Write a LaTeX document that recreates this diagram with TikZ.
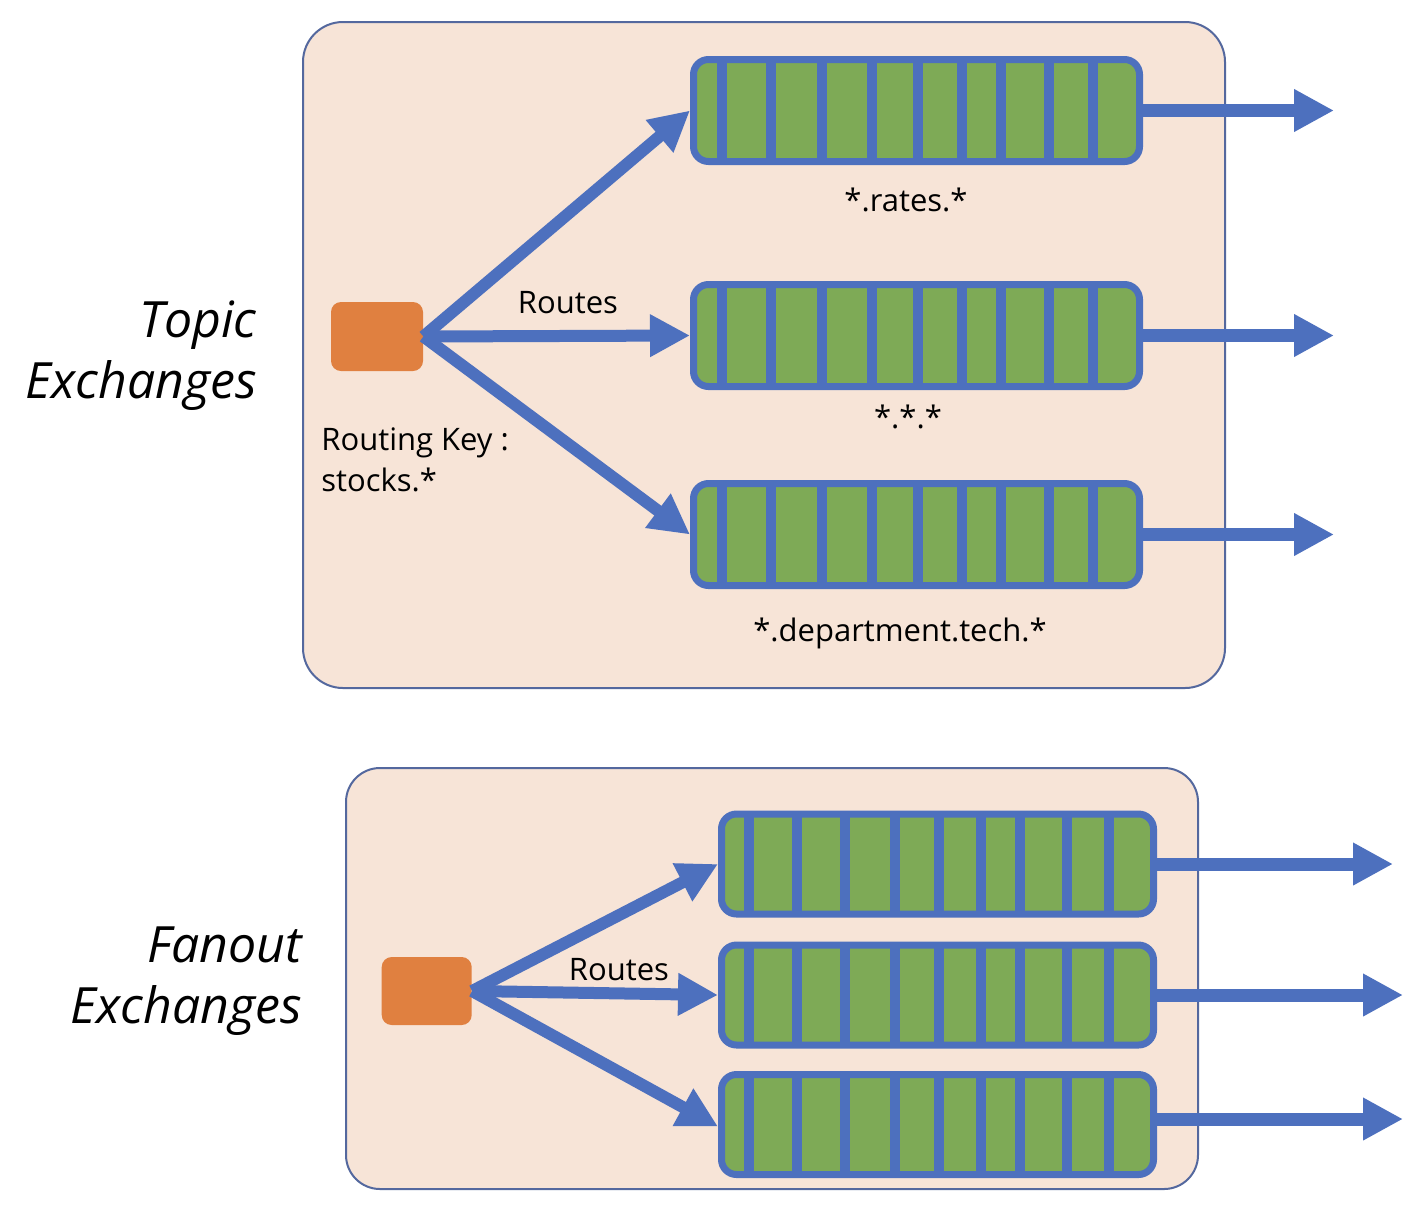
\documentclass[tikz,border=0pt]{standalone}
\usepackage{fontspec}
\setmainfont{Open Sans}
\usetikzlibrary{arrows.meta}
\definecolor{panelfill}{RGB}{247,228,215}
\definecolor{panelline}{RGB}{84,104,158}
\definecolor{qblue}{RGB}{77,112,190}
\definecolor{qgreen}{RGB}{126,170,86}
\definecolor{exorange}{RGB}{224,128,64}
\begin{document}
\begin{tikzpicture}[x=0.5pt,y=-0.5pt,
  panel/.style={draw=panelline, line width=1pt, fill=panelfill, rounded corners=20pt},
  queuetop/.style={draw=qblue, fill=qgreen, line width=3.5pt, rounded corners=7.5pt,
    minimum width=223pt, minimum height=51pt, inner sep=0pt},
  queuebot/.style={queuetop, minimum width=216pt, minimum height=50pt},
  exch/.style={fill=exorange, rounded corners=5pt, inner sep=0pt},
  route/.style={draw=qblue, line width=6pt, -{Triangle[length=20pt,width=20pt]}},
  outarrow/.style={draw=qblue, line width=6.5pt, -{Triangle[length=20pt,width=20pt]}},
  divider/.style={draw=qblue, line width=5pt},
  lbl/.style={font=\fontsize{15.5}{20.5}\selectfont, text=black, inner sep=0pt},
  ttl/.style={font=\fontsize{25}{30}\selectfont\itshape, text=black, inner sep=0pt},
]
\useasboundingbox (0,0) rectangle (1418,1206);
\fill[white] (0,0) rectangle (1418,1206);

% panels
\draw[panel] (303,22) rectangle (1225,688);
\draw[panel, rounded corners=17pt] (346,768) rectangle (1198,1189);

% exchanges
\node[exch, minimum width=46pt, minimum height=34.5pt] (ex1) at (377,336.5) {};
\node[exch, minimum width=45pt, minimum height=34pt] (ex2) at (426.7,991) {};

% queues (top)
\node[queuetop] (q1) at (916.5,110.5) {};
\node[queuetop] (q2) at (916.5,335.5) {};
\node[queuetop] (q3) at (916.5,534.5) {};
\foreach \cy in {110.5,335.5,534.5}{
  \foreach \x in {721.7,770.7,822.3,871.7,918.3,961.7,1001,1049.3,1093.3}{
    \draw[divider] (\x,{\cy-51}) -- (\x,{\cy+51});
  }
}
% queues (bottom)
\node[queuebot] (q4) at (937.5,864) {};
\node[queuebot] (q5) at (937.5,995) {};
\node[queuebot] (q6) at (937.5,1124.5) {};
\foreach \cy in {864,995,1124.5}{
  \foreach \x in {749.3,797.3,845,895,939.3,981,1020,1066.7,1108.7}{
    \draw[divider] (\x,{\cy-50}) -- (\x,{\cy+50});
  }
}

% routing arrows
\draw[route] (ex1.east) -- (q1.west);
\draw[route] (ex1.east) -- (q2.west);
\draw[route] (ex1.east) -- (q3.west);
\draw[route] (ex2.east) -- (q4.west);
\draw[route] (ex2.east) -- (q5.west);
\draw[route] (ex2.east) -- ([yshift=-1pt]q6.west);

% outgoing arrows
\coordinate (o1) at (1334,110.5);
\coordinate (o2) at (1334,335.5);
\coordinate (o3) at (1334,534.5);
\coordinate (o4) at (1393,864);
\coordinate (o5) at (1403,995);
\coordinate (o6) at (1403,1119);
\draw[outarrow] (q1.east) -- (o1);
\draw[outarrow] (q2.east) -- (o2);
\draw[outarrow] (q3.east) -- (o3);
\draw[outarrow] (q4.east) -- (o4);
\draw[outarrow] (q5.east) -- (o5);
\draw[outarrow] (q6.east |- o6) -- (o6);

% labels
\node[lbl, anchor=base] (l1) at (906,211) {*.rates.*};
\node[lbl, anchor=base] (l2) at (908,428) {*.*.*};
\node[lbl, anchor=base] (l3) at (900,641) {*.department.tech.*};
\node[lbl, anchor=base] (r1) at (568,313) {Routes};
\node[lbl, anchor=base] (r2) at (619,980) {Routes};
\node[lbl, anchor=base west] (k1) at (321,450) {Routing Key :};
\node[lbl, anchor=base west] (k2) at (321,491) {stocks.*};

% titles
\node[ttl, anchor=base east] (t1) at (257,337) {Topic};
\node[ttl, anchor=base east] (t2) at (257,398) {Exchanges};
\node[ttl, anchor=base east] (t3) at (302,962) {Fanout};
\node[ttl, anchor=base east] (t4) at (302,1023) {Exchanges};
\end{tikzpicture}
\end{document}
